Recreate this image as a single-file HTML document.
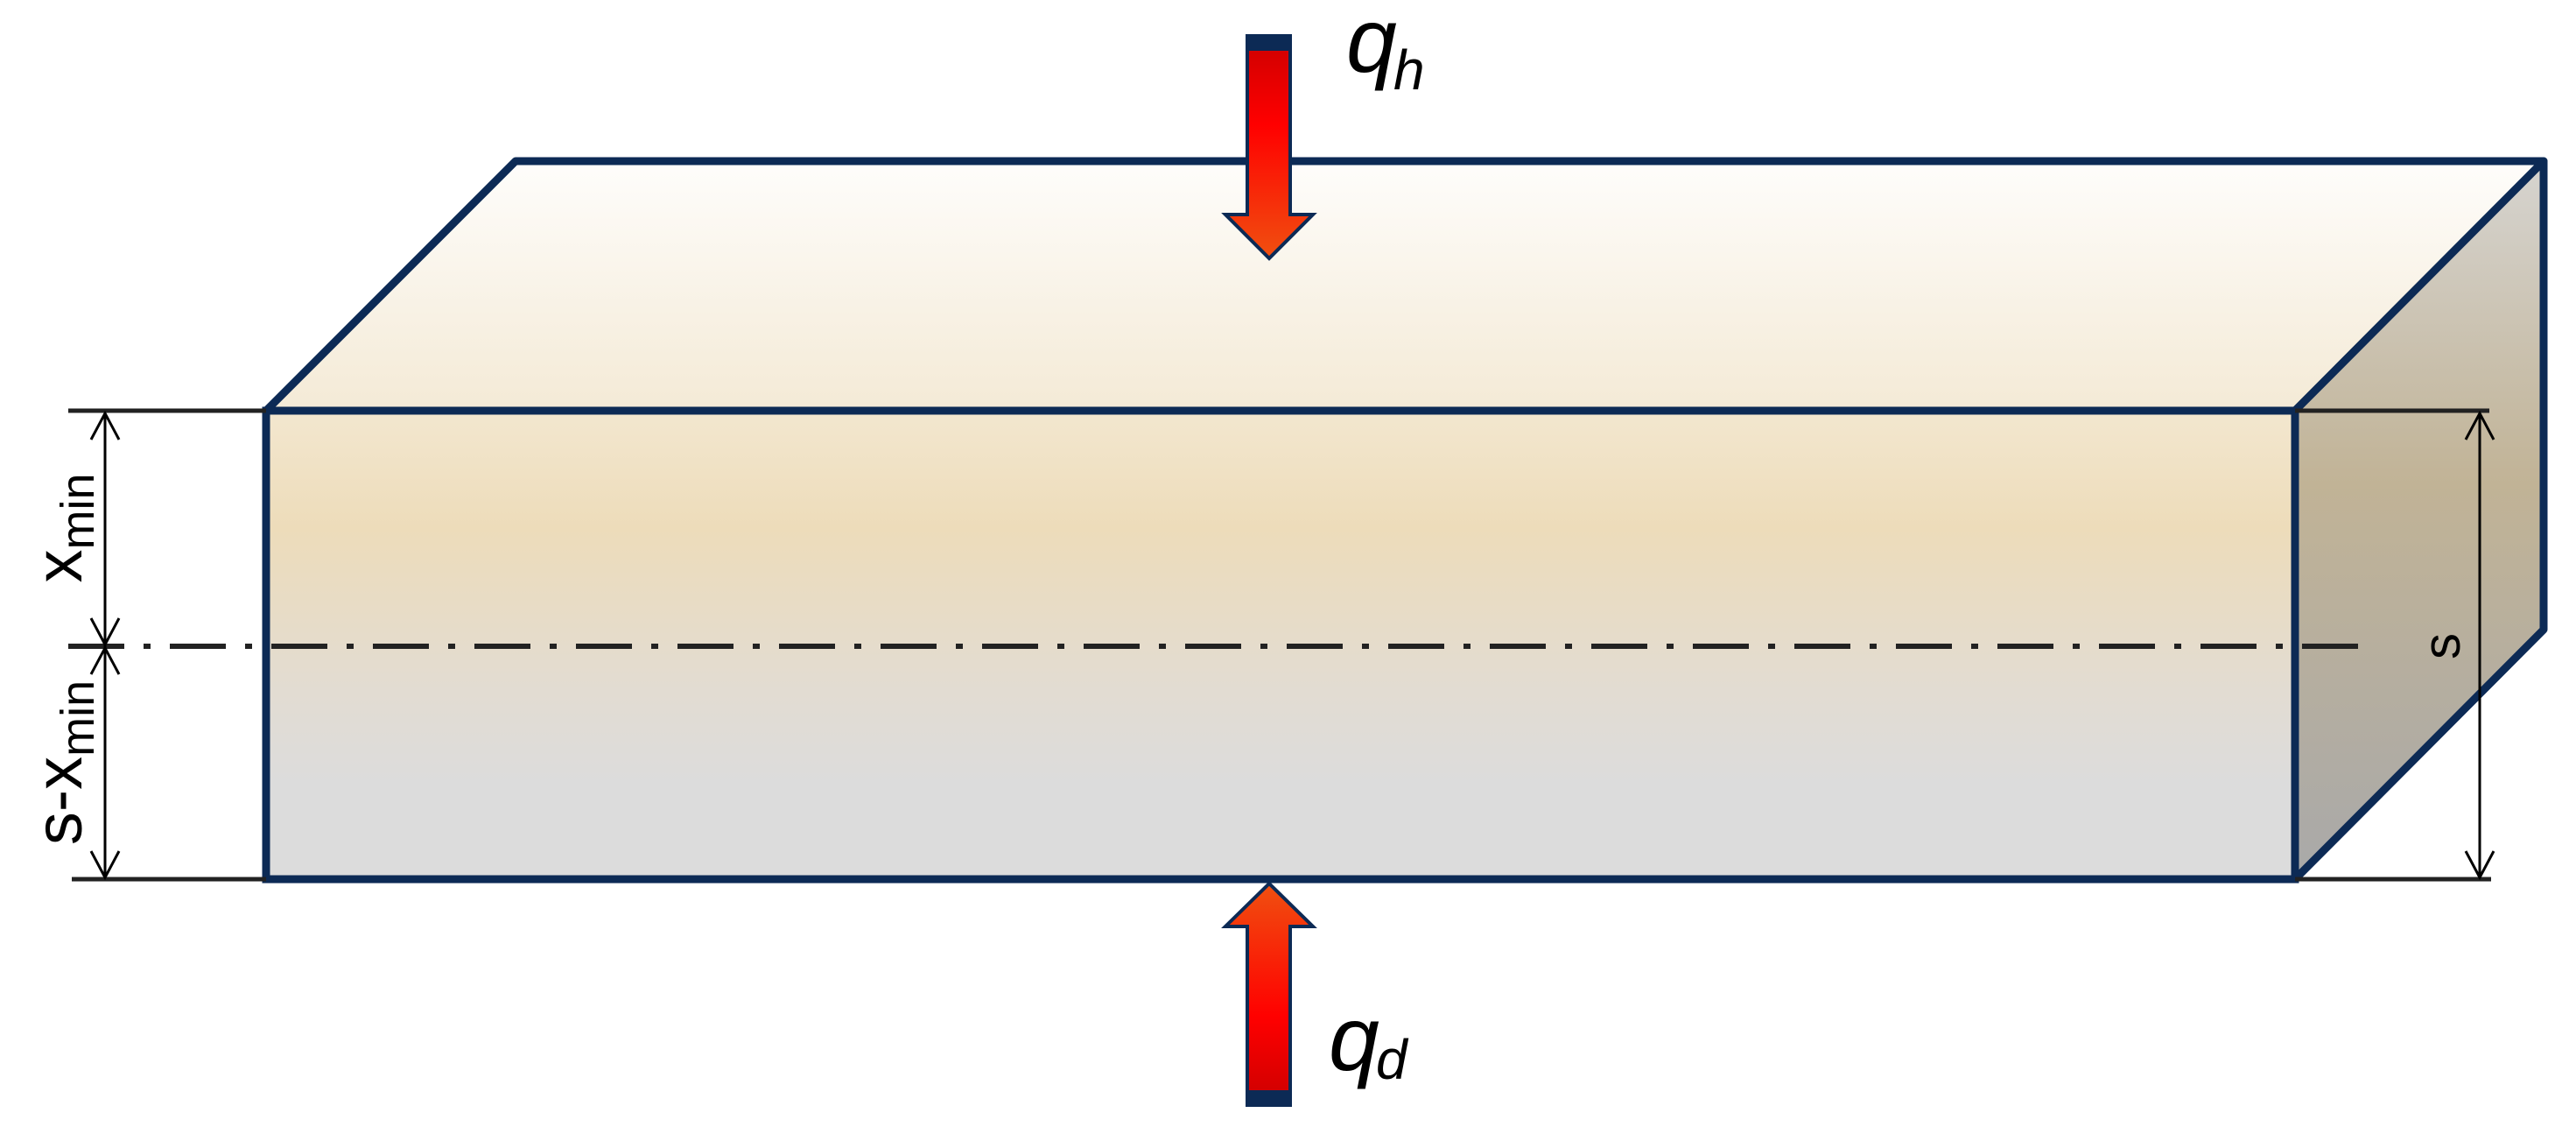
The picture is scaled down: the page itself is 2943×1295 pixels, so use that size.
<!DOCTYPE html>
<html><head><meta charset="utf-8"><style>html,body{margin:0;padding:0;background:#fff}svg{display:block}</style></head><body>
<svg width="2943" height="1295" viewBox="0 0 2943 1295" xmlns="http://www.w3.org/2000/svg">
<defs>
<linearGradient id="top" x1="0" y1="0" x2="0" y2="1"><stop offset="0" stop-color="#fefdfb"/><stop offset="1" stop-color="#f4ead6"/></linearGradient>
<linearGradient id="front" x1="0" y1="0" x2="0" y2="1"><stop offset="0" stop-color="#f3e7cf"/><stop offset="0.25" stop-color="#eddcba"/><stop offset="0.6" stop-color="#e2dcd2"/><stop offset="0.8" stop-color="#dcdcdc"/><stop offset="1" stop-color="#dcdcdc"/></linearGradient>
<linearGradient id="side" x1="0" y1="0" x2="0" y2="1"><stop offset="0" stop-color="#d6d4d0"/><stop offset="0.45" stop-color="#c1b396"/><stop offset="1" stop-color="#a9a9a9"/></linearGradient>
<linearGradient id="ad" x1="0" y1="0" x2="0" y2="1"><stop offset="0" stop-color="#cc0000"/><stop offset="0.4" stop-color="#ff0000"/><stop offset="1" stop-color="#f05010"/></linearGradient>
<linearGradient id="au" x1="0" y1="1" x2="0" y2="0"><stop offset="0" stop-color="#cc0000"/><stop offset="0.4" stop-color="#ff0000"/><stop offset="1" stop-color="#f05010"/></linearGradient>
</defs>
<polygon points="304,469 589,184 2906,184 2622,469" fill="url(#top)" stroke="#0c2a55" stroke-width="9" stroke-linejoin="round"/>
<polygon points="2622,469 2906,184 2906,719 2622,1004" fill="url(#side)" stroke="#0c2a55" stroke-width="9" stroke-linejoin="round"/>
<rect x="304" y="469" width="2318" height="535" fill="url(#front)" stroke="#0c2a55" stroke-width="9"/>
<g stroke="#222" stroke-width="5">
<line x1="78" y1="469" x2="304" y2="469"/><line x1="82" y1="1004" x2="304" y2="1004"/>
<line x1="2622" y1="469" x2="2844" y2="469"/><line x1="2622" y1="1004" x2="2846" y2="1004"/>
<line x1="78" y1="738" x2="2703" y2="738" stroke-width="6" stroke-dasharray="64,22,8,22"/>
</g>
<g stroke="#000" stroke-width="3" fill="none">
<line x1="120" y1="472" x2="120" y2="1001"/>
<polyline points="104,502 120,472 136,502"/><polyline points="104,706 120,736 136,706"/>
<polyline points="104,770 120,740 136,770"/><polyline points="104,972 120,1002 136,972"/>
<line x1="2833" y1="472" x2="2833" y2="1001"/>
<polyline points="2817,502 2833,472 2849,502"/><polyline points="2817,972 2833,1002 2849,972"/>
</g>
<g font-family="Liberation Sans, sans-serif" fill="#000">
<text transform="translate(93,603) rotate(-90)" text-anchor="middle" font-size="76">x<tspan font-size="54" dy="14">min</tspan></text>
<text transform="translate(93,871) rotate(-90)" text-anchor="middle" font-size="76">s-x<tspan font-size="54" dy="14">min</tspan></text>
<text transform="translate(2810,738) rotate(-90)" text-anchor="middle" font-size="60">s</text>
<text x="1538" y="82" font-size="104" font-style="italic">q</text>
<text x="1592" y="102" font-size="64" font-style="italic">h</text>
<text x="1518" y="1222" font-size="104" font-style="italic">q</text>
<text x="1572" y="1232" font-size="64" font-style="italic">d</text>
</g>
<polygon points="1425,41 1474,41 1474,245 1500,245 1450,295 1400,245 1425,245" fill="url(#ad)" stroke="#0c2a55" stroke-width="4"/>
<rect x="1425" y="41" width="49" height="17" fill="#0c2a55"/>
<polygon points="1425,1262 1474,1262 1474,1058 1500,1058 1450,1009 1400,1058 1425,1058" fill="url(#au)" stroke="#0c2a55" stroke-width="4"/>
<rect x="1425" y="1245" width="49" height="17" fill="#0c2a55"/>
</svg>
</body></html>
